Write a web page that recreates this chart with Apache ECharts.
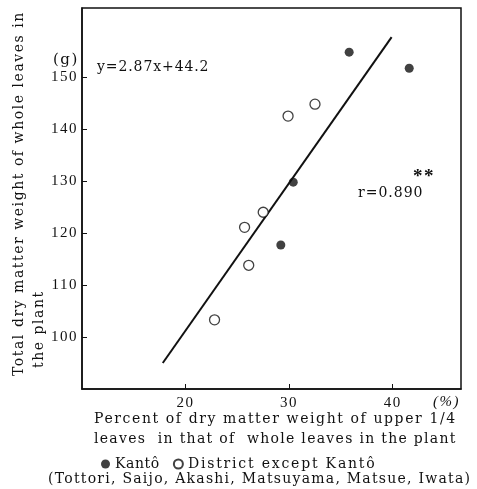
<!DOCTYPE html>
<html>
<head>
<meta charset="utf-8">
<script src="https://cdn.jsdelivr.net/npm/echarts@6/dist/echarts.min.js"></script>
<style>
html,body{margin:0;padding:0;background:#fff;}
#chart{width:477px;height:489px;}
</style>
</head>
<body>
<div id="chart"></div>
<script>
// Data
var kantoX = [35.8, 41.6, 30.4, 29.2];
var kantoY = [154.8, 151.7, 129.8, 117.7];
var otherX = [29.9, 32.5, 27.5, 25.7, 26.1, 22.8];
var otherY = [142.5, 144.8, 124.0, 121.1, 113.8, 103.3];
var lineX = [17.8, 39.9];
var lineY = [95.0, 157.7];
var xTicks = [20, 30, 40];
var yTicks = [100, 110, 120, 130, 140, 150];

function pairs(xs, ys){ return xs.map(function(v,i){ return [v, ys[i]]; }); }

var SERIF = '"Liberation Serif", serif';
var WIDE = '"DejaVu Serif", serif';

// letter spacing (px) for the widely spaced typeset texts of the reference
var spacing = {
  'Percent of dry matter weight of upper 1/4': 1.6,
  'leaves  in that of  whole leaves in the plant': 1.3,
  '(Tottori, Saijo, Akashi, Matsuyama, Matsue, Iwata)': 1.25,
  'Total dry matter weight of whole leaves in': 1.55,
  'the plant': 1.55,
  'District except Kantô': 1.8,
  'Kantô': 0.6,
  'y=2.87x+44.2': 0.9,
  'r=0.890': 1.0,
  '(g)': 1.5
};

(function(){
  var proto = window.CanvasRenderingContext2D && CanvasRenderingContext2D.prototype;
  if (!proto) return;
  var orig = proto.fillText;
  proto.fillText = function(text){
    var ls = spacing[text];
    if (ls && ('letterSpacing' in this) && (this.textAlign === 'left' || this.textAlign === 'start')) {
      var prev = this.letterSpacing;
      this.letterSpacing = ls + 'px';
      var r = orig.apply(this, arguments);
      this.letterSpacing = prev;
      return r;
    }
    return orig.apply(this, arguments);
  };
})();

var chart = echarts.init(document.getElementById('chart'));
chart.setOption({
  backgroundColor: '#fff',
  animation: false,
  grid: { left: 82, right: 16, top: 8, bottom: 100, show: true, borderColor: '#111', borderWidth: 1.5, backgroundColor: 'transparent' },
  xAxis: {
    type: 'value', min: 10, max: 46.6,
    axisLine: { show: true, onZero: false, lineStyle: { color: '#111', width: 1.5 } },
    axisTick: { show: true, inside: true, length: 5, customValues: xTicks, lineStyle: { color: '#111' } },
    axisLabel: { customValues: xTicks, color: '#111', fontFamily: SERIF, fontSize: 15, margin: 7 },
    splitLine: { show: false }
  },
  yAxis: {
    type: 'value', min: 90, max: 163.3,
    axisLine: { show: true, onZero: false, lineStyle: { color: '#111', width: 1.5 } },
    axisTick: { show: true, inside: true, length: 5, customValues: yTicks, lineStyle: { color: '#111' } },
    axisLabel: { customValues: yTicks, color: '#111', fontFamily: SERIF, fontSize: 15, margin: 4 },
    splitLine: { show: false }
  },
  legend: {
    left: 96, top: 452,
    itemWidth: 9, itemHeight: 9, itemGap: 16,
    textStyle: { fontFamily: WIDE, fontSize: 14, color: '#111' },
    data: [
      { name: 'Kantô', icon: 'circle' },
      { name: 'District except Kantô', icon: 'circle' }
    ]
  },
  series: [
    {
      type: 'line', name: 'regression', data: pairs(lineX, lineY),
      symbol: 'none', lineStyle: { color: '#111', width: 2 }, z: 1
    },
    {
      type: 'scatter', name: 'Kantô', data: pairs(kantoX, kantoY),
      symbol: 'circle', symbolSize: 9, itemStyle: { color: '#111' }, z: 3
    },
    {
      type: 'scatter', name: 'District except Kantô', data: pairs(otherX, otherY),
      symbol: 'circle', symbolSize: 10, itemStyle: { color: '#fff', borderColor: '#111', borderWidth: 1.3 }, z: 3
    }
  ],
  graphic: [
    { type: 'text', left: 53, top: 53, style: { text: '(g)', font: '15px ' + WIDE, fill: '#111' } },
    { type: 'text', left: 433, top: 395, style: { text: '(%)', font: 'italic 15px ' + SERIF, fill: '#111' } },
    { type: 'text', left: 97, top: 60, style: { text: 'y=2.87x+44.2', font: '14px ' + WIDE, fill: '#111' } },
    { type: 'text', left: 358, top: 186, style: { text: 'r=0.890', font: '14px ' + WIDE, fill: '#111' } },
    { type: 'text', left: 413, top: 168, style: { text: '**', font: 'bold 19px ' + SERIF, lineHeight: 12, fill: '#111' } },
    { type: 'text', left: 94, top: 412, style: { text: 'Percent of dry matter weight of upper 1/4', font: '14px ' + WIDE, fill: '#111' } },
    { type: 'text', left: 94, top: 432, style: { text: 'leaves  in that of  whole leaves in the plant', font: '14px ' + WIDE, fill: '#111' } },
    { type: 'text', left: 48, top: 472, style: { text: '(Tottori, Saijo, Akashi, Matsuyama, Matsue, Iwata)', font: '14px ' + WIDE, fill: '#111' } },
    { type: 'text', x: 19, y: 376, rotation: Math.PI / 2,
      style: { text: 'Total dry matter weight of whole leaves in', font: '14px ' + WIDE, fill: '#111', textAlign: 'left', textVerticalAlign: 'middle' } },
    { type: 'text', x: 39, y: 368, rotation: Math.PI / 2,
      style: { text: 'the plant', font: '14px ' + WIDE, fill: '#111', textAlign: 'left', textVerticalAlign: 'middle' } }
  ]
});
</script>
</body>
</html>
